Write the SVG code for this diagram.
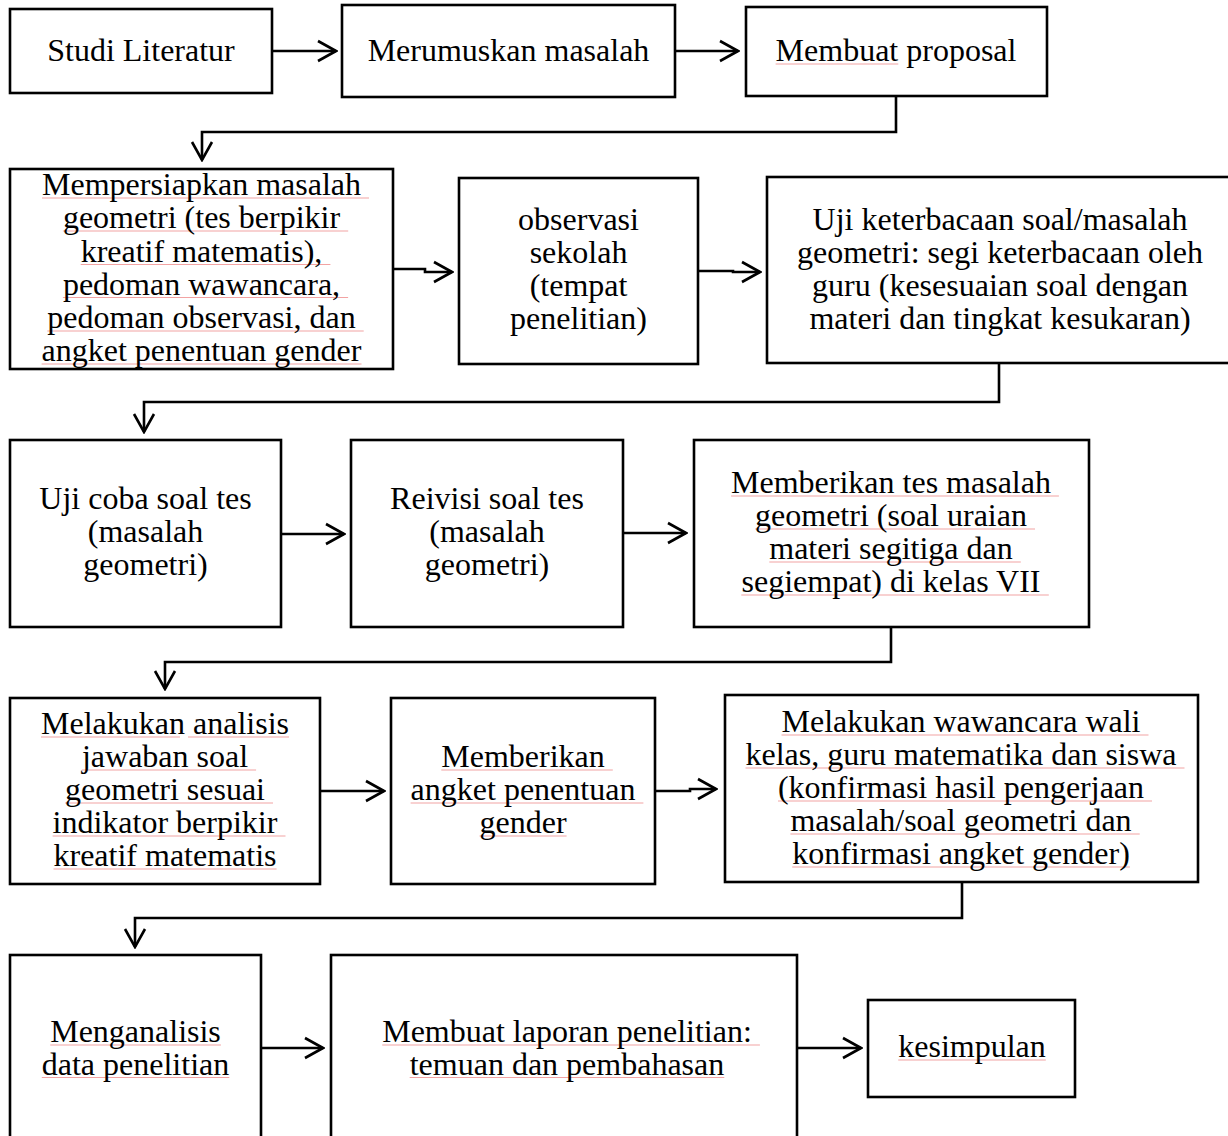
<svg xmlns="http://www.w3.org/2000/svg" width="1228" height="1136" viewBox="0 0 1228 1136">
<style>
  .box { fill: #ffffff; stroke: #000000; stroke-width: 2.6; }
  .t { font-family: "Liberation Serif", "Times New Roman", serif; font-size: 32px; fill: #000000; text-anchor: middle; }
  .ul { stroke: #f2a3a3; stroke-width: 1.2; fill: none; }
  .c { fill: none; stroke: #000000; stroke-width: 2.6; stroke-linejoin: miter; marker-end: url(#arr); }
</style>
<defs>
  <marker id="arr" markerUnits="userSpaceOnUse" viewBox="-22 -12 24 24" refX="0" refY="0" markerWidth="24" markerHeight="24" orient="auto">
    <path d="M-18,-10 L0,0 L-18,10" fill="none" stroke="#000000" stroke-width="2.6"/>
  </marker>
</defs>
<rect width="1228" height="1136" fill="#ffffff"/>

<g id="connectors">
  <polyline class="c" points="273,51 336,51"/>
  <polyline class="c" points="675,51 738,51"/>
  <polyline class="c" points="896,96 896,132 202,132 202,160"/>
  <polyline class="c" points="393,269 425,269 425,272 452,272"/>
  <polyline class="c" points="697,271 733,271 733,272 760,272"/>
  <polyline class="c" points="999,363 999,402 144,402 144,432"/>
  <polyline class="c" points="281,534 344,534"/>
  <polyline class="c" points="623,533 686,533"/>
  <polyline class="c" points="891,627 891,662 165,662 165,689"/>
  <polyline class="c" points="320,791 384,791"/>
  <polyline class="c" points="655,791 690,791 690,789 716,789"/>
  <polyline class="c" points="962,882 962,918 135,918 135,947"/>
  <polyline class="c" points="261,1048 323,1048"/>
  <polyline class="c" points="797,1048 861,1048"/>
</g>

<g id="n1">
  <rect class="box" x="10" y="9" width="262" height="84"/>
  <text class="t" x="141" y="61">Studi Literatur</text>
</g>
<g id="n2">
  <rect class="box" x="342" y="5" width="333" height="92"/>
  <text class="t" x="508.5" y="61">Merumuskan masalah</text>
</g>
<g id="n3">
  <rect class="box" x="746" y="7" width="301" height="89"/>
  <path class="ul" d="M775.6,64H898.3"/>
  <text class="t" x="896" y="61">Membuat proposal</text>
</g>
<g id="n4">
  <rect class="box" x="10" y="169" width="383" height="200"/>
  <path class="ul" d="M42,198H369M62.9,231H348.2M80.7,264.5H330.4M62.9,297.5H348.1M47.3,331H363.7M41.6,364H361.5"/>
  <text class="t" x="201.5" y="195">Mempersiapkan masalah</text>
  <text class="t" x="201.5" y="228">geometri (tes berpikir</text>
  <text class="t" x="201.5" y="261.5">kreatif matematis),</text>
  <text class="t" x="201.5" y="294.5">pedoman wawancara,</text>
  <text class="t" x="201.5" y="328">pedoman observasi, dan</text>
  <text class="t" x="201.5" y="361">angket penentuan gender</text>
</g>
<g id="n5">
  <rect class="box" x="459" y="178" width="239" height="186"/>
  <text class="t" x="578.5" y="230">observasi</text>
  <text class="t" x="578.5" y="263">sekolah</text>
  <text class="t" x="578.5" y="296">(tempat</text>
  <text class="t" x="578.5" y="329">penelitian)</text>
</g>
<g id="n6">
  <rect class="box" x="767" y="177" width="470" height="186"/>
  <text class="t" x="1000" y="230">Uji keterbacaan soal/masalah</text>
  <text class="t" x="1000" y="263">geometri: segi keterbacaan oleh</text>
  <text class="t" x="1000" y="296">guru (kesesuaian soal dengan</text>
  <text class="t" x="1000" y="329">materi dan tingkat kesukaran)</text>
</g>
<g id="n7">
  <rect class="box" x="10" y="440" width="271" height="187"/>
  <text class="t" x="145.5" y="509">Uji coba soal tes</text>
  <text class="t" x="145.5" y="542">(masalah</text>
  <text class="t" x="145.5" y="575">geometri)</text>
</g>
<g id="n8">
  <rect class="box" x="351" y="440" width="272" height="187"/>
  <text class="t" x="487" y="509">Reivisi soal tes</text>
  <text class="t" x="487" y="542">(masalah</text>
  <text class="t" x="487" y="575">geometri)</text>
</g>
<g id="n9">
  <rect class="box" x="694" y="440" width="395" height="187"/>
  <path class="ul" d="M731.1,496H1058.9M755.1,529H1035M769.3,562H1020.8M741.3,595H1048.8"/>
  <text class="t" x="891" y="493">Memberikan tes masalah</text>
  <text class="t" x="891" y="526">geometri (soal uraian</text>
  <text class="t" x="891" y="559">materi segitiga dan</text>
  <text class="t" x="891" y="592">segiempat) di kelas VII</text>
</g>
<g id="n10">
  <rect class="box" x="10" y="698" width="310" height="186"/>
  <path class="ul" d="M41,737H180M188,737H289M81.9,770H256.1M65,803H273M52.6,836H285.5M53.5,869H276.6"/>
  <text class="t" x="165" y="734">Melakukan analisis</text>
  <text class="t" x="165" y="767">jawaban soal</text>
  <text class="t" x="165" y="800">geometri sesuai</text>
  <text class="t" x="165" y="833">indikator berpikir</text>
  <text class="t" x="165" y="866">kreatif matematis</text>
</g>
<g id="n11">
  <rect class="box" x="391" y="698" width="264" height="186"/>
  <path class="ul" d="M441.3,770H612.8M410.6,803H643.4M479.5,836H566.6"/>
  <text class="t" x="523" y="767">Memberikan</text>
  <text class="t" x="523" y="800">angket penentuan</text>
  <text class="t" x="523" y="833">gender</text>
</g>
<g id="n12">
  <rect class="box" x="725" y="695" width="473" height="187"/>
  <path class="ul" d="M781.5,735H1148.5M745.5,768H1184.5M778,801H1152M790.4,834H1139.7M792.2,867H1129.9"/>
  <text class="t" x="961" y="732">Melakukan wawancara wali</text>
  <text class="t" x="961" y="765">kelas, guru matematika dan siswa</text>
  <text class="t" x="961" y="798">(konfirmasi hasil pengerjaan</text>
  <text class="t" x="961" y="831">masalah/soal geometri dan</text>
  <text class="t" x="961" y="864">konfirmasi angket gender)</text>
</g>
<g id="n13">
  <rect class="box" x="10" y="955" width="251" height="200"/>
  <path class="ul" d="M50.2,1045H220.9M41.8,1077.5H229.3"/>
  <text class="t" x="135.5" y="1042">Menganalisis</text>
  <text class="t" x="135.5" y="1074.5">data penelitian</text>
</g>
<g id="n14">
  <rect class="box" x="331" y="955" width="466" height="200"/>
  <path class="ul" d="M382.2,1045H759.9M409.7,1077.5H724.3"/>
  <text class="t" x="567" y="1042">Membuat laporan penelitian:</text>
  <text class="t" x="567" y="1074.5">temuan dan pembahasan</text>
</g>
<g id="n15">
  <rect class="box" x="868" y="1000" width="207" height="97"/>
  <path class="ul" d="M898.2,1060H1045.8"/>
  <text class="t" x="972" y="1057">kesimpulan</text>
</g>
</svg>
